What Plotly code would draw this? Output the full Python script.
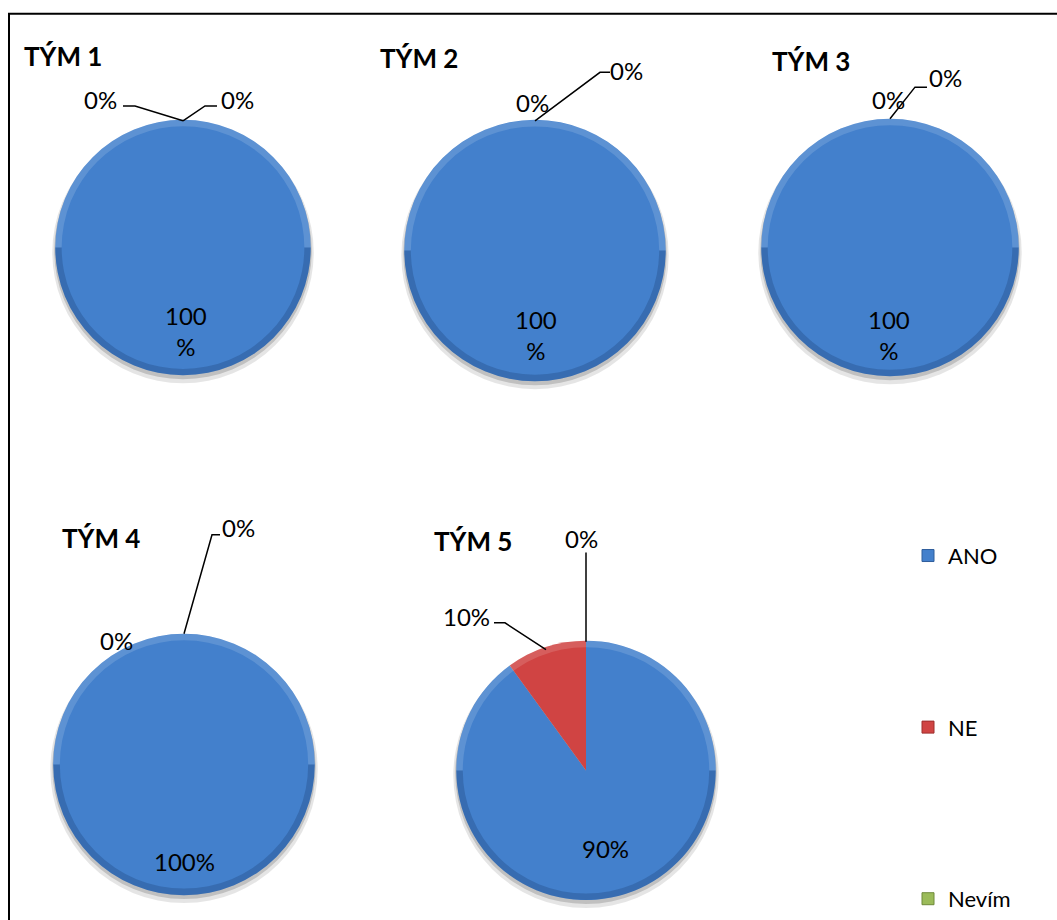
import plotly.graph_objects as go

# ---- data -------------------------------------------------------------
teams = ["TÝM 1", "TÝM 2", "TÝM 3", "TÝM 4", "TÝM 5"]
categories = ["ANO", "NE", "Nevím"]
ano = [100, 100, 100, 100, 90]
ne = [0, 0, 0, 0, 10]
nevim = [0, 0, 0, 0, 0]

colors = ["#4380CC", "#D04443", "#9BBB59"]
legend_line = ["#2F5E9C", "#9E2E2D", "#6F8A3A"]

W, H = 1057, 920
FONT = "Lato"


def px(x):
    return x / W


def py(y):
    return 1 - y / H


# ---- layout geometry (pixels) ------------------------------------------
pie_geom = [  # centre x, centre y, radius
    (183, 250, 129),
    (535, 253, 132),
    (890, 250, 130),
    (184, 772, 132),
    (586, 778, 131),
]
title_pos = [(22, 57), (378, 59), (770, 62), (60, 543), (432, 546)]
# inside label anchor (ANO)
inner_pos = [(186, 334), (536, 338), (889, 338), (184, 870), (605, 857)]
inner_wrap = [True, True, True, False, False]
# outside labels: (category index, text centre, leader polyline)
outer_labels = [
    [(1, (100, 100), [(123, 107), (135, 107), (183, 122)]),
     (2, (237, 100), [(183, 122), (205, 107), (217, 107)])],
    [(1, (532, 104), None),
     (2, (626, 71), [(535, 122), (600, 73), (610, 73)])],
    [(1, (888, 100), None),
     (2, (945, 78), [(890, 120), (915, 88), (927, 88)])],
    [(1, (116, 647), None),
     (2, (238, 533), [(184, 640), (212, 540), (220, 540)])],
    [(1, (466, 623), [(546, 656), (505, 629), (494, 629)]),
     (2, (581, 544), [(586, 648), (586, 558)])],
]


def domain(cx, cy, r):
    return dict(x=[px(cx - r), px(cx + r)], y=[py(cy + r), py(cy - r)])


fig = go.Figure()

values_by_team = list(zip(ano, ne, nevim))

for i, (cx, cy, r) in enumerate(pie_geom):
    vals = list(values_by_team[i])
    # soft drop shadow (two layers for a softer edge)
    for off, grow, alpha in [(5, 3, 0.10), (3, 1, 0.16)]:
        fig.add_trace(go.Pie(
            values=[1], labels=["s"], domain=domain(cx, cy + off, r + grow),
            marker=dict(colors=[f"rgba(0,0,0,{alpha})"], line=dict(width=0)),
            textinfo="none", hoverinfo="skip", showlegend=False, sort=False))
    # the pie itself
    fig.add_trace(go.Pie(
        values=vals, labels=categories, domain=domain(cx, cy, r),
        sort=False, direction="clockwise", rotation=0,
        marker=dict(colors=colors, line=dict(width=0)),
        textinfo="none", hoverinfo="label+percent", showlegend=False, name=teams[i]))
    # bevel rim: light on top, dark at the bottom
    fig.add_trace(go.Pie(
        values=[1, 1], labels=["hl", "sh"], domain=domain(cx, cy, r),
        hole=0.95, sort=False, direction="clockwise", rotation=-90,
        marker=dict(colors=["rgba(255,255,255,0.14)", "rgba(10,30,70,0.20)"],
                    line=dict(width=0)),
        textinfo="none", hoverinfo="skip", showlegend=False))

annotations = []
shapes = []

for i, t in enumerate(teams):
    tx, ty = title_pos[i]
    annotations.append(dict(
        x=px(tx), y=py(ty), xref="paper", yref="paper", xanchor="left", yanchor="middle",
        text=f"<b>{t}</b>", showarrow=False, font=dict(family=FONT, size=26, color="black")))

    # ANO label inside the pie
    v = ano[i]
    txt = f"{v}<br>%" if inner_wrap[i] else f"{v}%"
    ix, iy = inner_pos[i]
    annotations.append(dict(
        x=px(ix), y=py(iy), xref="paper", yref="paper", xanchor="center", yanchor="middle",
        text=txt, showarrow=False, font=dict(family=FONT, size=24, color="black")))

    for cat_idx, (lx, ly), path in outer_labels[i]:
        v = values_by_team[i][cat_idx]
        annotations.append(dict(
            x=px(lx), y=py(ly), xref="paper", yref="paper", xanchor="center", yanchor="middle",
            text=f"{v}%", showarrow=False, font=dict(family=FONT, size=24, color="black")))
        if path:
            d = "M " + " L ".join(f"{px(x)},{py(y)}" for x, y in path)
            shapes.append(dict(type="path", path=d, xref="paper", yref="paper",
                               line=dict(color="black", width=1.5)))

# chart frame
shapes.append(dict(type="rect", xref="paper", yref="paper",
                   x0=px(9), x1=1.02, y0=-0.02, y1=py(14),
                   line=dict(color="black", width=2), fillcolor="rgba(0,0,0,0)"))

# legend entries
for k, c in enumerate(categories):
    fig.add_trace(go.Scatter(
        x=[None], y=[None], mode="markers", name=c, legendgroup=c,
        marker=dict(symbol="square", size=12, color=colors[k],
                    line=dict(color=legend_line[k], width=1)),
        showlegend=True))

fig.update_layout(
    width=W, height=H,
    margin=dict(l=0, r=0, t=0, b=0),
    paper_bgcolor="white", plot_bgcolor="white",
    xaxis=dict(visible=False), yaxis=dict(visible=False),
    annotations=annotations, shapes=shapes,
    legend=dict(x=px(908), y=py(540), xanchor="left", yanchor="top",
                tracegroupgap=140, font=dict(family=FONT, size=22, color="black"),
                bgcolor="rgba(0,0,0,0)", itemclick=False, itemdoubleclick=False),
    showlegend=True,
)

fig.write_html("out.html")
